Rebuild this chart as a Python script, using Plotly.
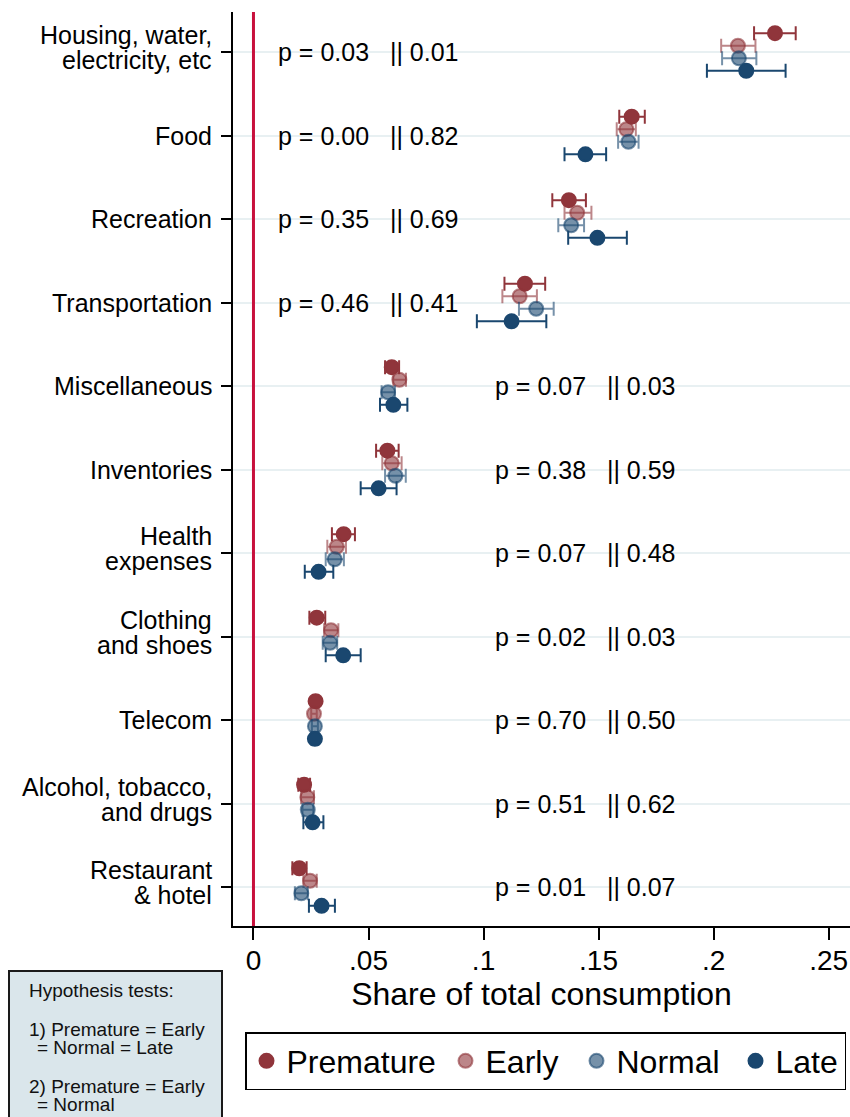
import plotly.graph_objects as go

# ---------------- data ----------------
categories = ["Housing, water,<br>electricity, etc", "Food", "Recreation", "Transportation",
              "Miscellaneous", "Inventories", "Health<br>expenses", "Clothing<br>and shoes",
              "Telecom", "Alcohol, tobacco,<br>and drugs", "Restaurant<br>& hotel"]

premature_mean = [0.2267, 0.1644, 0.1371, 0.1180, 0.0601, 0.0582, 0.0392, 0.0275, 0.0270, 0.0220, 0.0199]
premature_lo   = [0.2176, 0.1590, 0.1299, 0.1091, 0.0572, 0.0533, 0.0341, 0.0243, 0.0258, 0.0195, 0.0169]
premature_hi   = [0.2357, 0.1701, 0.1445, 0.1268, 0.0633, 0.0631, 0.0441, 0.0312, 0.0282, 0.0246, 0.0231]

early_mean = [0.2106, 0.1621, 0.1407, 0.1157, 0.0634, 0.0601, 0.0362, 0.0337, 0.0263, 0.0234, 0.0246]
early_lo   = [0.2033, 0.1579, 0.1352, 0.1082, 0.0608, 0.0560, 0.0321, 0.0307, 0.0251, 0.0207, 0.0217]
early_hi   = [0.2182, 0.1662, 0.1469, 0.1232, 0.0663, 0.0644, 0.0402, 0.0369, 0.0275, 0.0263, 0.0275]

normal_mean = [0.2110, 0.1630, 0.1381, 0.1229, 0.0585, 0.0617, 0.0353, 0.0333, 0.0267, 0.0236, 0.0208]
normal_lo   = [0.2037, 0.1585, 0.1325, 0.1154, 0.0557, 0.0572, 0.0314, 0.0301, 0.0254, 0.0213, 0.0180]
normal_hi   = [0.2186, 0.1674, 0.1437, 0.1305, 0.0615, 0.0662, 0.0393, 0.0364, 0.0280, 0.0260, 0.0236]

late_mean = [0.2142, 0.1443, 0.1495, 0.1122, 0.0608, 0.0544, 0.0283, 0.0390, 0.0267, 0.0257, 0.0296]
late_lo   = [0.1971, 0.1352, 0.1368, 0.0971, 0.0550, 0.0466, 0.0223, 0.0314, 0.0252, 0.0217, 0.0241]
late_hi   = [0.2313, 0.1533, 0.1623, 0.1273, 0.0669, 0.0622, 0.0347, 0.0466, 0.0282, 0.0304, 0.0354]

p_test1 = ["0.03", "0.00", "0.35", "0.46", "0.07", "0.38", "0.07", "0.02", "0.70", "0.51", "0.01"]
p_test2 = ["0.01", "0.82", "0.69", "0.41", "0.03", "0.59", "0.48", "0.03", "0.50", "0.62", "0.07"]

x_ticks = [0, 0.05, 0.10, 0.15, 0.20, 0.25]
x_tick_labels = ["0", ".05", ".1", ".15", ".2", ".25"]

series_names = ["Premature", "Early", "Normal", "Late"]

# ---------------- layout / style ----------------
W, H = 850, 1117
L, R, T, B = 233, 0, 12, 191
PW, PH = W - L - R, H - T - B

def px_x(px):
    return (px - L) / PW

def px_y(py):
    return (H - B - py) / PH

FONT = "Liberation Sans, Arial, sans-serif"
MAROON = "rgb(144,53,59)"
MAROON_T = "rgba(144,53,59,0.6)"
NAVY = "rgb(26,71,111)"
NAVY_T = "rgba(26,71,111,0.6)"

styles = [
    dict(color=MAROON, line=MAROON, offset=-0.225, lw=154),
    dict(color=MAROON_T, line=MAROON_T, offset=-0.075, lw=86),
    dict(color=NAVY_T, line=NAVY_T, offset=0.075, lw=114),
    dict(color=NAVY, line=NAVY, offset=0.225, lw=64),
]

series = [
    (premature_mean, premature_lo, premature_hi),
    (early_mean, early_lo, early_hi),
    (normal_mean, normal_lo, normal_hi),
    (late_mean, late_lo, late_hi),
]

fig = go.Figure()

for name, (m, lo, hi), st in zip(series_names, series, styles):
    ys = [i + st["offset"] for i in range(len(categories))]
    fig.add_trace(go.Scatter(
        x=m, y=ys, mode="markers", name=name, legendwidth=st["lw"],
        marker=dict(size=14, color=st["color"], line=dict(color=st["line"], width=2)),
        error_x=dict(type="data", symmetric=False,
                     array=[h - v for h, v in zip(hi, m)],
                     arrayminus=[v - l for v, l in zip(m, lo)],
                     color=st["line"], thickness=2, width=7),
        hoverinfo="x+name",
    ))

annotations = []

# category labels (tight two-line spacing as in the reference)
for i, cat in enumerate(categories):
    lines = cat.split("<br>")
    shifts = [0] if len(lines) == 1 else [17, -8]
    for line, sh in zip(lines, shifts):
        annotations.append(dict(
            x=px_x(214), y=i, xref="paper", yref="y", xanchor="right", yanchor="middle",
            yshift=sh, text=line, showarrow=False,
            font=dict(family=FONT, size=25, color="black"),
        ))

# p-value annotations
for i, (a, b) in enumerate(zip(p_test1, p_test2)):
    xpos = 0.0096 if i < 4 else 0.104
    annotations.append(dict(
        x=xpos, y=i, xref="x", yref="y", xanchor="left", yanchor="middle",
        text=f"p = {a}   || {b}", showarrow=False,
        font=dict(family=FONT, size=25, color="black"),
    ))

# hypothesis box text
hyp_lines = [
    ("Hypothesis tests:", 27, 990),
    ("1) Premature = Early", 27, 1029),
    ("= Normal = Late", 35, 1047),
    ("2) Premature = Early", 27, 1086),
    ("= Normal", 35, 1104),
]
for txt, x0, y0 in hyp_lines:
    annotations.append(dict(
        x=px_x(x0), y=px_y(y0), xref="paper", yref="paper",
        xanchor="left", yanchor="middle", text=txt, showarrow=False,
        font=dict(family=FONT, size=19, color="#111111"),
    ))

shapes = [
    dict(type="line", xref="x", yref="paper", x0=0, x1=0, y0=0, y1=1,
         line=dict(color="#c8103c", width=3), layer="above"),
    dict(type="rect", xref="paper", yref="paper",
         x0=px_x(9), x1=px_x(222), y0=px_y(971), y1=px_y(1130),
         fillcolor="#dae6eb", line=dict(color="#1a1a1a", width=2), layer="below"),
]

fig.update_layout(
    width=W, height=H,
    margin=dict(l=L, r=R, t=T, b=B, pad=0, autoexpand=False),
    paper_bgcolor="white", plot_bgcolor="white",
    font=dict(family=FONT, color="black"),
    showlegend=True,
    legend=dict(
        orientation="h", x=px_x(245), y=px_y(1032), xanchor="left", yanchor="top",
        bordercolor="black", borderwidth=1.5, bgcolor="white",
        font=dict(family=FONT, size=32, color="black"),
        itemclick=False, itemdoubleclick=False,
    ),
    xaxis=dict(
        range=[-0.0089, 0.2593], tickmode="array", tickvals=x_ticks, ticktext=x_tick_labels,
        ticks="outside", ticklen=12, tickwidth=1.5, tickcolor="black",
        showline=True, linecolor="black", linewidth=2,
        showgrid=False, zeroline=False, automargin=False,
        tickfont=dict(family=FONT, size=28, color="black"),
        ticklabelstandoff=-4,
        title=dict(text="Share of total consumption", standoff=0,
                   font=dict(family=FONT, size=32, color="black")),
    ),
    yaxis=dict(
        range=[10.467, -0.479], tickmode="array", tickvals=list(range(len(categories))),
        ticktext=[""] * len(categories),
        ticks="outside", ticklen=10, tickwidth=1.5, tickcolor="black",
        showline=True, linecolor="black", linewidth=2, automargin=False,
        showgrid=True, gridcolor="#e8f0f2", gridwidth=2, zeroline=False,
    ),
    annotations=annotations,
    shapes=shapes,
)

fig.write_html("out.html", config={"displayModeBar": False},
               post_script="document.body.style.margin='0px';")
